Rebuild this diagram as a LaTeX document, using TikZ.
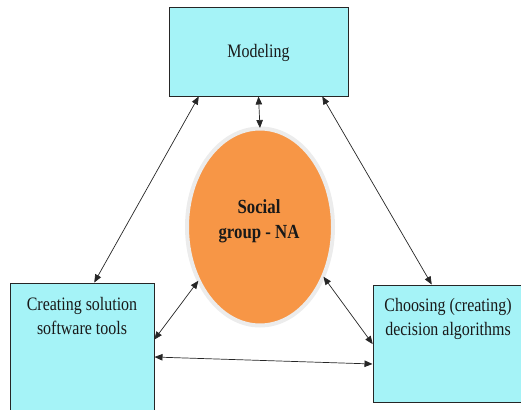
\documentclass[tikz,border=0pt]{standalone}
\usepackage{fontspec}
\setmainfont{Liberation Serif}[FakeStretch=0.84]
\usetikzlibrary{shapes.geometric,arrows.meta}
\definecolor{boxcyan}{RGB}{165,243,247}
\definecolor{ellorange}{RGB}{247,150,70}
\definecolor{ringgray}{RGB}{236,236,236}
\tikzset{
  boxnode/.style={draw=black!85, line width=0.8pt, fill=boxcyan, rectangle, inner sep=0pt, outer sep=0pt},
  txt/.style={font=\fontsize{19}{24}\selectfont, align=center, inner sep=0pt, text=black!90},
  link/.style={line width=0.7pt, draw=black!85, {Triangle[length=8pt,width=6.5pt]}-{Triangle[length=8pt,width=6.5pt]}, shorten <=0.5pt, shorten >=0.5pt}
}
\begin{document}
\begin{tikzpicture}[x=1pt,y=-1pt]
\useasboundingbox (0,0) rectangle (521,409);
\node[boxnode, minimum width=179pt, minimum height=89pt] (mod) at (258.5,51.5) {};
\node[txt] (modtxt) at (258.5,53) {Modeling};
\node[boxnode, minimum width=144pt, minimum height=132pt] (left) at (82,349) {};
\node[txt] (lefttxt) at (82,316) {Creating solution\\software tools};
\node[boxnode, minimum width=157pt, minimum height=117pt] (right) at (451.5,343.5) {};
\node[txt] (righttxt) at (448,319) {Choosing (creating)\\decision algorithms};
\node[ellipse, draw=ringgray, line width=4pt, fill=ellorange, minimum width=146pt, minimum height=197pt, inner sep=0pt, outer sep=0pt] (ell) at (260,227) {};
\node[txt, font=\fontsize{20}{25}\selectfont\bfseries] (elltxt) at (259,221) {Social\\group - NA};
\draw[link] (mod.south) -- (ell.north);
\draw[link] ([xshift=-59.5pt]mod.south) -- ([xshift=12pt]left.north);
\draw[link] ([xshift=63.5pt]mod.south) -- ([xshift=-19.5pt]right.north);
\draw[link] ([yshift=9pt]left.east) -- (ell.221);
\draw[link] (ell.-38) -- ([yshift=-1pt]right.west);
\draw[link] ([yshift=-8pt]left.east) -- ([yshift=-20.5pt]right.west);
\end{tikzpicture}
\end{document}
